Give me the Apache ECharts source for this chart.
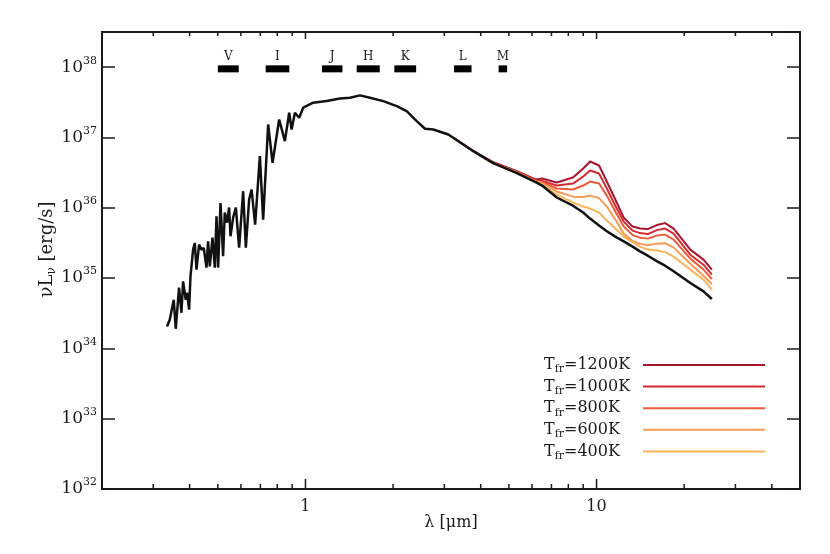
<!DOCTYPE html>
<html><head><meta charset="utf-8">
<script src="https://cdn.jsdelivr.net/npm/echarts@6/dist/echarts.min.js"></script>
<style>html,body{margin:0;padding:0;background:#fff}#c{width:830px;height:554px}</style>
</head><body><div id="c"></div>
<script>
// ---- data ----
const lambdaBlack = [0.3345,0.3418,0.3528,0.3584,0.3679,0.375,0.3798,0.388,0.392,0.3983,0.4027,0.4111,0.4167,0.4223,0.4311,0.4393,0.4474,0.4571,0.4629,0.4692,0.4793,0.4881,0.4948,0.5011,0.5107,0.5212,0.5283,0.538,0.5466,0.5527,0.5643,0.5765,0.5917,0.6108,0.624,0.6405,0.6529,0.6716,0.6972,0.7156,0.7445,0.7709,0.8122,0.8497,0.8793,0.896,0.92,0.9515,0.9822,1.063,1.182,1.314,1.422,1.539,1.666,1.851,2.058,2.227,2.411,2.575,2.749,3.096,3.221,3.774,4.4,5.3,6.2,6.5,7.3,8.3,9.0,9.5,10.2,10.85,11.6,12.4,13.3,14.1,15.0,16.1,17.2,18.4,21.0,23.3,24.9];
const lumBlack = [2.05e34,2.55e34,4.92e34,1.9e34,7.3e34,3.21e34,8.98e34,4.92e34,6.2e34,3.55e34,1.06e35,2.54e35,3.16e35,1.32e35,2.99e35,2.54e35,2.68e35,1.41e35,3.33e35,1.47e35,3.76e35,1.41e35,7.57e35,1.41e35,1.17e36,2.04e35,8.55e35,6.15e35,1.01e36,3.93e35,7.25e35,1.01e36,2.71e35,1.72e36,2.71e35,1.31e36,1.82e36,5.77e35,5.42e36,6.79e35,1.53e37,4.36e36,1.8e37,8.86e36,2.25e37,1.3e37,2.25e37,1.91e37,2.65e37,3.12e37,3.29e37,3.59e37,3.67e37,3.97e37,3.67e37,3.29e37,2.79e37,2.37e37,1.71e37,1.33e37,1.3e37,1.1e37,9.91e36,6.38e36,4.36e36,3.14e36,2.29e36,2.07e36,1.4e36,1.07e36,8.55e35,7.02e35,5.58e35,4.63e35,3.89e35,3.33e35,2.8e35,2.4e35,2.08e35,1.74e35,1.5e35,1.25e35,8.51e34,6.47e34,5.04e34];

const lambdaIR = [3.221,3.774,4.4,5.3,6.2,6.5,7.3,8.3,9.0,9.5,10.2,10.85,11.6,12.4,13.3,14.1,15.0,16.1,17.2,18.4,21.0,23.3,24.9];
const lum1200 = [9.91e36,6.38e36,4.48e36,3.33e36,2.52e36,2.61e36,2.29e36,2.69e36,3.62e36,4.55e36,3.99e36,2.36e36,1.31e36,7.25e35,5.4e35,5.06e35,4.97e35,5.67e35,6.05e35,5.06e35,2.54e35,1.83e35,1.32e35];
const lum1000 = [9.91e36,6.38e36,4.4e36,3.28e36,2.44e36,2.4e36,2.07e36,2.21e36,2.78e36,3.39e36,3.07e36,1.88e36,1.07e36,6.36e35,4.73e35,4.36e35,4.22e35,4.81e35,5.06e35,4.29e35,2.15e35,1.55e35,1.12e35];
const lum800 = [9.91e36,6.38e36,4.33e36,3.23e36,2.4e36,2.32e36,1.88e36,1.82e36,2.07e36,2.36e36,2.21e36,1.49e36,8.83e35,5.4e35,4.08e35,3.76e35,3.64e35,4.02e35,4.15e35,3.52e35,1.89e35,1.32e35,9.64e34];
const lum600 = [9.91e36,6.38e36,4.33e36,3.17e36,2.36e36,2.25e36,1.7e36,1.44e36,1.42e36,1.49e36,1.37e36,1.04e36,6.79e35,4.29e35,3.36e35,3.09e35,2.94e35,3.09e35,3.14e35,2.71e35,1.6e35,1.08e35,8.19e34];
const lum400 = [9.91e36,6.38e36,4.33e36,3.17e36,2.32e36,2.14e36,1.54e36,1.19e36,1.04e36,9.75e35,8.55e35,6.57e35,5.06e35,3.89e35,3.25e35,2.8e35,2.54e35,2.46e35,2.34e35,2.02e35,1.32e35,9.49e34,6.84e34];

const tempLabels = ['1200', '1000', '800', '600', '400'];
const tempColors = ['#a8132e', '#d42a30', '#ec5a3a', '#f59a56', '#fbb35a'];
const tempData = [lum1200, lum1000, lum800, lum600, lum400];

const bandNames = ['V', 'I', 'J', 'H', 'K', 'L', 'M'];
const bandLo = [0.50, 0.73, 1.14, 1.50, 2.02, 3.24, 4.61];
const bandHi = [0.59, 0.88, 1.34, 1.80, 2.40, 3.72, 4.93];
const bandLevel = 9.46e37;

const xMin = 0.2, xMax = 50;
const yMin = 1e32, yMax = 3.1623e38;
const xMajorTicks = [1, 10];
const xMinorTicks = [0.3, 0.4, 0.5, 0.6, 0.7, 0.8, 0.9, 2, 3, 4, 5, 6, 7, 8, 9, 20, 30, 40];

// ---- chart ----
const FONT = 'DejaVu Serif';
const INK = '#1a1a1a';
const chart = echarts.init(document.getElementById('c'), null, {renderer: 'canvas'});

function isPow10(v) { const l = Math.log10(v); return Math.abs(l - Math.round(l)) < 1e-6; }

function tickSeries(values, lenBottom, lenTop) {
  return {
    type: 'custom', silent: true, z: 5,
    data: values.map(v => [v, yMin]),
    renderItem: function (params, api) {
      const x = api.coord([api.value(0), yMin])[0];
      const cs = params.coordSys;
      return {type: 'group', children: [
        {type: 'line', shape: {x1: x, y1: cs.y + cs.height, x2: x, y2: cs.y + cs.height - lenBottom}, style: {stroke: INK, lineWidth: 1.5}},
        {type: 'line', shape: {x1: x, y1: cs.y, x2: x, y2: cs.y + lenTop}, style: {stroke: INK, lineWidth: 1.5}}
      ]};
    }
  };
}

const series = [];
tempLabels.forEach((t, i) => {
  series.push({
    name: t, type: 'line', symbol: 'none', z: 2,
    data: lambdaIR.map((l, j) => [l, tempData[i][j]]),
    lineStyle: {color: tempColors[i], width: 2},
    itemStyle: {color: tempColors[i]}
  });
});
series.push({
  name: 'model', type: 'line', symbol: 'none', z: 3,
  data: lambdaBlack.map((l, j) => [l, lumBlack[j]]),
  lineStyle: {color: '#111', width: 2.5}
});
series.push({
  type: 'custom', silent: true, z: 4,
  data: bandNames.map((n, i) => [bandLo[i], bandHi[i], bandLevel]),
  renderItem: function (params, api) {
    const p0 = api.coord([api.value(0), api.value(2)]);
    const p1 = api.coord([api.value(1), api.value(2)]);
    return {type: 'group', children: [
      {type: 'rect', shape: {x: p0[0], y: p0[1] - 3.5, width: p1[0] - p0[0], height: 7}, style: {fill: '#000'}},
      {type: 'text', style: {x: (p0[0] + p1[0]) / 2, y: p0[1] - 6, text: bandNames[params.dataIndex], align: 'center', verticalAlign: 'bottom', font: '12px ' + FONT, fill: INK}}
    ]};
  }
});
series.push(tickSeries(xMinorTicks, 5, 4));
series.push(tickSeries(xMajorTicks, 10, 7));

const yAxisCommon = {
  type: 'log', min: yMin, max: yMax, logBase: 10,
  axisLine: {show: false}, splitLine: {show: false},
  axisTick: {show: true, inside: true, length: 13, lineStyle: {color: INK, width: 1.5}}
};

chart.setOption({
  animation: false,
  backgroundColor: '#fff',
  grid: {left: 102, right: 30, top: 32, bottom: 65, show: true, borderColor: INK, borderWidth: 2, backgroundColor: 'transparent'},
  legend: {
    data: tempLabels.map((t, i) => ({name: t, icon: 'rect', itemStyle: {color: tempColors[i]}})),
    orient: 'vertical', right: 65, top: 357, align: 'right', padding: 0,
    itemWidth: 122, itemHeight: 2, itemGap: 3.6,
    formatter: name => '{t|T}{s|fr}{t|=' + name + 'K}',
    textStyle: {
      width: 94, color: INK,
      rich: {
        t: {fontSize: 16, fontFamily: FONT, color: INK, align: 'left', lineHeight: 20},
        s: {fontSize: 11, fontFamily: FONT, color: INK, align: 'left', verticalAlign: 'bottom', lineHeight: 14}
      }
    }
  },
  xAxis: {
    type: 'log', min: xMin, max: xMax, logBase: 10,
    name: 'λ [μm]', nameLocation: 'middle', nameGap: 26, nameMoveOverlap: false,
    nameTextStyle: {fontFamily: FONT, fontSize: 16, color: INK},
    axisLine: {show: false}, splitLine: {show: false}, axisTick: {show: false},
    axisLabel: {
      margin: 10, fontFamily: FONT, fontSize: 16, color: INK,
      showMinLabel: false, showMaxLabel: false,
      formatter: v => isPow10(v) ? String(Math.round(v)) : ''
    }
  },
  yAxis: [
    Object.assign({}, yAxisCommon, {
      position: 'left',
      name: '{a|νL}{b|ν}{a| [erg/s]}', nameLocation: 'middle', nameGap: 44, nameMoveOverlap: false,
      nameTextStyle: {padding: [0, 0, 0, 22], rich: {
        a: {fontFamily: FONT, fontSize: 18, color: INK, lineHeight: 22},
        b: {fontFamily: FONT, fontSize: 12, color: INK, verticalAlign: 'bottom', lineHeight: 15}
      }},
      axisLabel: {
        margin: 5, showMaxLabel: false,
        formatter: v => isPow10(v) ? '{a|10}{s|' + Math.round(Math.log10(v)) + '}' : '',
        rich: {
          a: {fontFamily: FONT, fontSize: 17, color: INK, lineHeight: 24},
          s: {fontFamily: FONT, fontSize: 11, color: INK, verticalAlign: 'top', lineHeight: 14}
        }
      }
    }),
    Object.assign({}, yAxisCommon, {position: 'right', axisLabel: {show: false}})
  ],
  series: series
});
</script>
</body></html>
